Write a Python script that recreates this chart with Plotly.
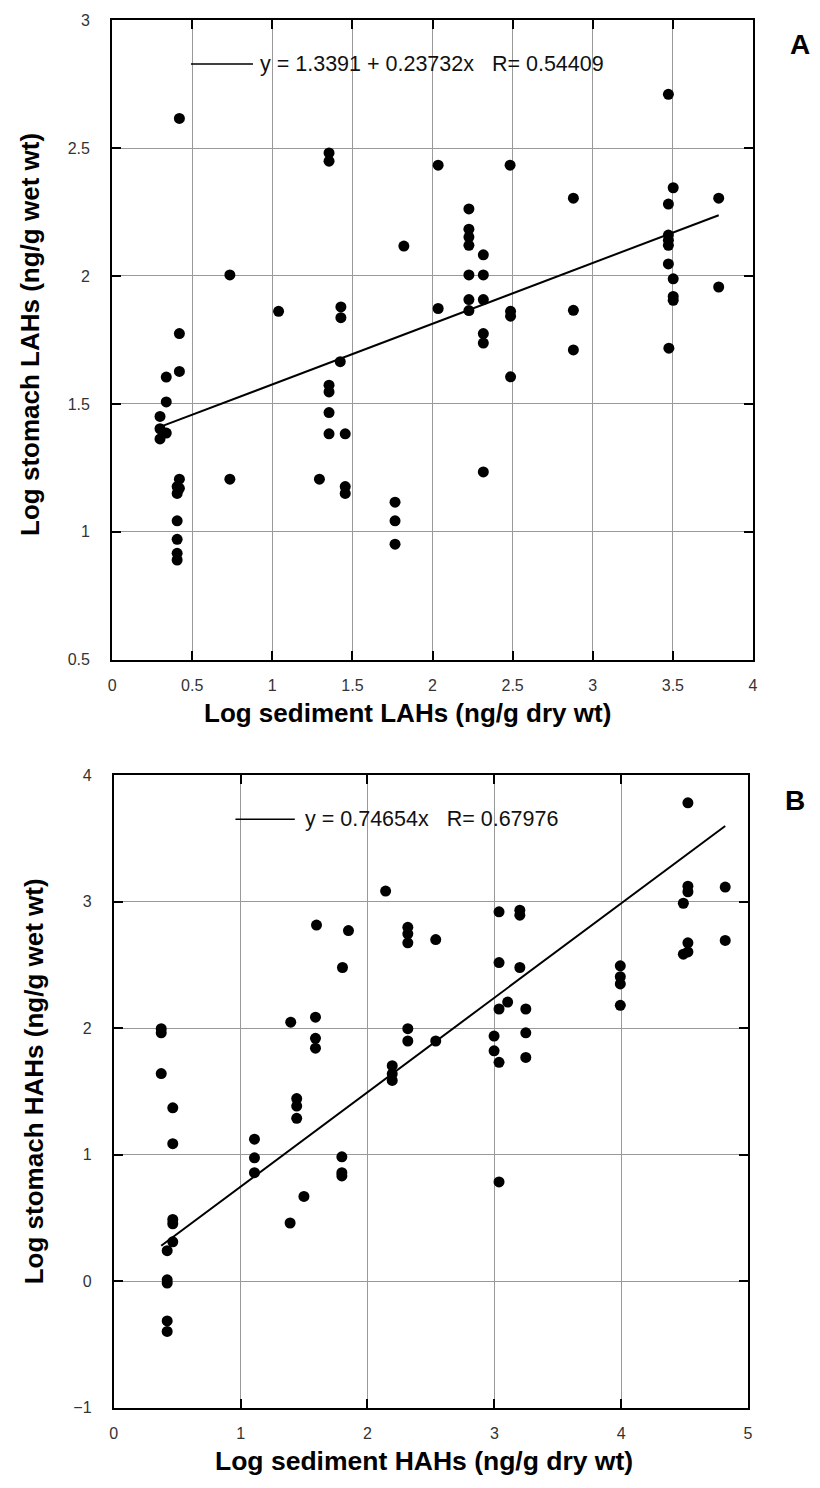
import plotly.graph_objects as go

# ---------------- data ----------------
# Panel A: log sediment LAHs vs log stomach LAHs
A_sed = [0.42, 1.354, 1.354, 2.035, 2.484, 3.472, 1.821, 0.735, 1.039, 1.428,
         1.428, 2.035, 0.42, 2.227, 2.227, 2.227, 2.227, 2.227, 2.227, 2.227,
         2.317, 2.317, 2.317, 2.317, 2.317, 2.317, 2.487, 2.487, 2.487, 2.879,
         2.879, 2.879, 3.502, 3.472, 3.472, 3.472, 3.472, 3.472, 3.502, 3.502,
         3.502, 3.475, 3.786, 3.786, 0.338, 0.42, 0.338, 0.299, 0.299, 0.338,
         0.299, 1.424, 1.354, 1.354, 1.354, 1.354, 1.455, 0.42, 0.406, 0.42,
         0.406, 0.406, 0.406, 0.406, 0.406, 0.735, 1.294, 1.455, 1.455, 1.766,
         1.766, 1.766]
A_stom = [2.616, 2.481, 2.449, 2.433, 2.433, 2.710, 2.117, 2.004, 1.862, 1.879,
          1.837, 1.873, 1.775, 2.262, 2.183, 2.152, 2.120, 2.004, 1.908, 1.865,
          2.083, 2.004, 1.908, 1.775, 1.738, 1.234, 1.862, 1.843, 1.606, 2.304,
          1.866, 1.711, 2.345, 2.281, 2.160, 2.140, 2.120, 2.047, 1.989, 1.920,
          1.905, 1.718, 2.304, 1.957, 1.605, 1.627, 1.508, 1.451, 1.403, 1.386,
          1.363, 1.665, 1.573, 1.547, 1.466, 1.383, 1.383, 1.206, 1.177, 1.170,
          1.150, 1.043, 0.971, 0.916, 0.890, 1.206, 1.206, 1.177, 1.150, 1.116,
          1.043, 0.952]
A_intercept = 1.3391
A_slope = 0.23732
A_R = 0.54409

# Panel B: log sediment HAHs vs log stomach HAHs
B_sed = [0.374, 0.374, 0.374, 0.465, 0.465, 0.465, 0.465, 0.465, 0.421, 0.421,
         0.421, 0.421, 0.421, 1.109, 1.109, 1.109, 1.395, 1.390, 1.442, 1.442,
         1.442, 1.499, 1.590, 1.590, 1.590, 1.598, 1.803, 1.798, 1.798, 1.798,
         1.850, 2.143, 2.195, 2.195, 2.195, 2.318, 2.318, 2.318, 2.318, 2.318,
         2.538, 2.538, 2.998, 2.998, 3.037, 3.037, 3.037, 3.037, 3.037, 3.105,
         3.201, 3.201, 3.201, 3.248, 3.248, 3.248, 3.993, 3.993, 3.993, 3.993,
         4.526, 4.526, 4.526, 4.490, 4.526, 4.526, 4.490, 4.820, 4.820]
B_stom = [1.995, 1.963, 1.640, 1.370, 1.086, 0.487, 0.453, 0.310, 0.240, 0.010,
          -0.016, -0.315, -0.398, 1.122, 0.974, 0.857, 2.047, 0.459, 1.443, 1.383,
          1.287, 0.669, 2.086, 1.919, 1.841, 2.815, 2.479, 0.982, 0.857, 0.831,
          2.771, 3.083, 1.703, 1.638, 1.586, 2.797, 2.745, 2.674, 1.995, 1.898,
          2.700, 1.898, 1.937, 1.820, 2.919, 2.518, 2.151, 1.729, 0.784, 2.206,
          2.932, 2.893, 2.479, 2.151, 1.963, 1.768, 2.492, 2.406, 2.349, 2.180,
          3.781, 3.122, 3.078, 2.987, 2.674, 2.602, 2.584, 3.115, 2.693]
B_intercept = 0.0
B_slope = 0.74654
B_R = 0.67976

A_xticks = [0, 0.5, 1, 1.5, 2, 2.5, 3, 3.5, 4]
A_yticks = [0.5, 1, 1.5, 2, 2.5, 3]
B_xticks = [0, 1, 2, 3, 4, 5]
B_yticks = [-1, 0, 1, 2, 3, 4]

A_xtitle = "Log sediment LAHs (ng/g dry wt)"
A_ytitle = "Log stomach LAHs (ng/g wet wt)"
B_xtitle = "Log sediment HAHs (ng/g dry wt)"
B_ytitle = "Log stomach HAHs (ng/g wet wt)"

# ---------------- figure ----------------
W, H = 820, 1488
FONT = "Liberation Sans, Arial, Helvetica, sans-serif"


def px_x(p):
    return p / W


def px_y(p):
    return 1 - p / H


fig = go.Figure()

# scatter points
fig.add_trace(go.Scatter(x=A_sed, y=A_stom, mode="markers",
                         marker=dict(size=11, color="black"),
                         xaxis="x", yaxis="y", showlegend=False))
fig.add_trace(go.Scatter(x=B_sed, y=B_stom, mode="markers",
                         marker=dict(size=11, color="black"),
                         xaxis="x2", yaxis="y2", showlegend=False))

# regression lines
ax0, ax1 = min(A_sed), max(A_sed)
fig.add_trace(go.Scatter(x=[ax0, ax1],
                         y=[A_intercept + A_slope * ax0, A_intercept + A_slope * ax1],
                         mode="lines", line=dict(color="black", width=2),
                         xaxis="x", yaxis="y", showlegend=False))
bx0, bx1 = min(B_sed), max(B_sed)
fig.add_trace(go.Scatter(x=[bx0, bx1],
                         y=[B_intercept + B_slope * bx0, B_intercept + B_slope * bx1],
                         mode="lines", line=dict(color="black", width=2),
                         xaxis="x2", yaxis="y2", showlegend=False))

common = dict(showgrid=True, gridcolor="#999999", gridwidth=1,
              showline=True, linecolor="black", linewidth=2, mirror="ticks",
              ticks="inside", ticklen=9, tickwidth=1.5, tickcolor="black",
              zeroline=False, tickfont=dict(family=FONT, size=16, color="#333333"))

fig.update_layout(
    width=W, height=H,
    margin=dict(l=0, r=0, t=0, b=0),
    paper_bgcolor="white", plot_bgcolor="white",
    font=dict(family=FONT, color="black"),
    xaxis=dict(domain=[px_x(109.3), px_x(757.3)], range=[0, 4], anchor="y",
               tickvals=A_xticks, ticklabelstandoff=10, **common),
    yaxis=dict(domain=[px_y(659.3), px_y(12.3)], range=[0.5, 3], anchor="x",
               tickvals=A_yticks, ticklabelstandoff=17, **common),
    xaxis2=dict(domain=[px_x(111), px_x(752.3)], range=[0, 5], anchor="y2",
                tickvals=B_xticks, ticklabelstandoff=10, **common),
    yaxis2=dict(domain=[px_y(1415.7), px_y(776)], range=[-1, 4], anchor="x2",
                tickvals=B_yticks, ticklabelstandoff=17, **common),
)

nb = "\u00a0"
eqA = f"y = {A_intercept} + {A_slope}x{nb*3}R= {A_R}"
eqB = f"y = {B_slope}x{nb*3}R= {B_R}"

# legend key lines (decoration)
fig.add_shape(type="line", xref="x domain", yref="y domain",
              x0=0.123, x1=0.2198, y0=0.9314, y1=0.9314,
              line=dict(color="black", width=1.5))
fig.add_shape(type="line", xref="x2 domain", yref="y2 domain",
              x0=0.1918, x1=0.2854, y0=0.9301, y1=0.9301,
              line=dict(color="black", width=1.5))

ann = [
    dict(text=eqA, xref="x domain", yref="y domain", x=0.2275, y=0.9314,
         xanchor="left", yanchor="middle", font=dict(size=21.5, family=FONT, color="#111")),
    dict(text=eqB, xref="x2 domain", yref="y2 domain", x=0.2978, y=0.9301,
         xanchor="left", yanchor="middle", font=dict(size=21.5, family=FONT, color="#111")),
    dict(text="<b>A</b>", xref="paper", yref="paper", x=px_x(805), y=px_y(37),
         xanchor="center", yanchor="middle", font=dict(size=28, family=FONT)),
    dict(text="<b>B</b>", xref="paper", yref="paper", x=px_x(800), y=px_y(802),
         xanchor="center", yanchor="middle", font=dict(size=28, family=FONT)),
    dict(text=f"<b>{A_xtitle}</b>", xref="paper", yref="paper", x=px_x(408), y=px_y(713),
         xanchor="center", yanchor="middle", font=dict(size=26, family=FONT)),
    dict(text=f"<b>{B_xtitle}</b>", xref="paper", yref="paper", x=px_x(424.5), y=px_y(1470),
         xanchor="center", yanchor="middle", font=dict(size=26.5, family=FONT)),
    dict(text=f"<b>{A_ytitle}</b>", xref="paper", yref="paper", x=px_x(27), y=px_y(330),
         xanchor="center", yanchor="middle", textangle=-90, font=dict(size=26, family=FONT)),
    dict(text=f"<b>{B_ytitle}</b>", xref="paper", yref="paper", x=px_x(30), y=px_y(1086),
         xanchor="center", yanchor="middle", textangle=-90, font=dict(size=26, family=FONT)),
]
for a in ann:
    a["showarrow"] = False
    fig.add_annotation(**a)

# remove the default 8px page margin so the figure fills the window exactly
fig.write_html("out.html",
               config={"displayModeBar": False},
               post_script="document.body.style.margin='0';"
                           "document.body.style.overflow='hidden';")
